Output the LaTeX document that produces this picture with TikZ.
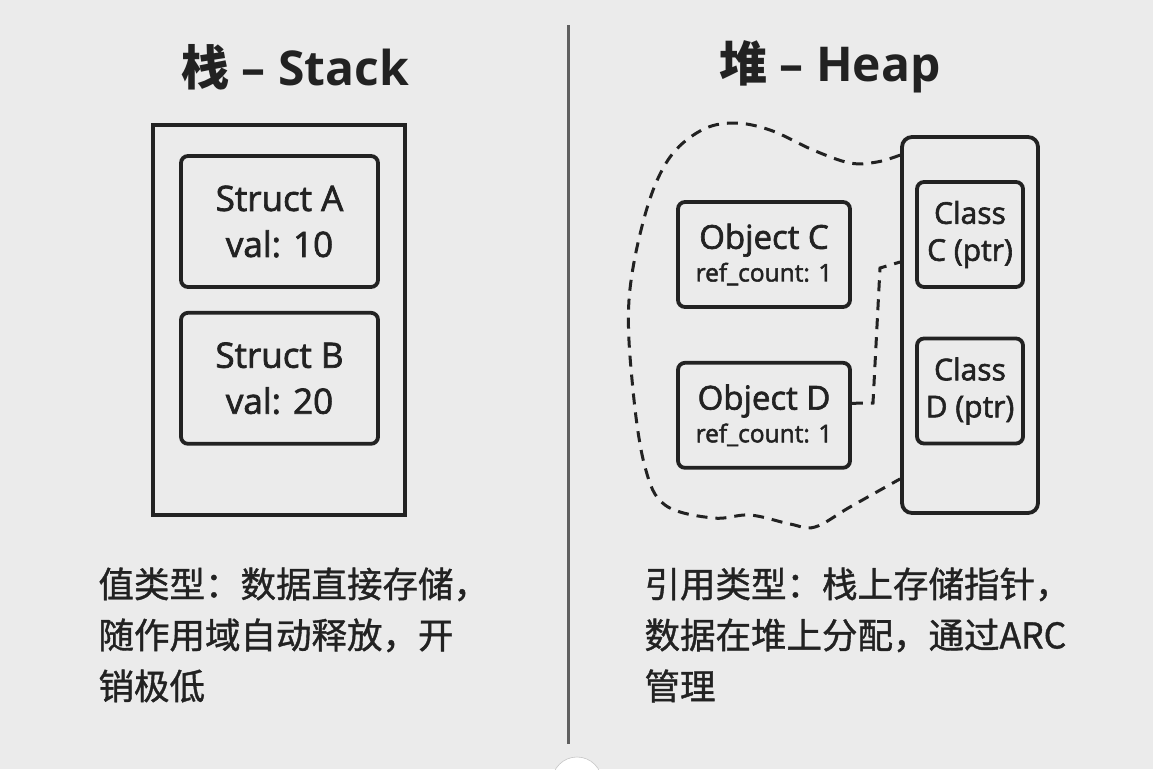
\documentclass[tikz,border=0pt]{standalone}
\usepackage{fontspec}
\setmainfont{Open Sans}
\newfontfamily\med[FakeBold=2]{Open Sans}
\newfontfamily\cjk{Noto Sans CJK SC}
\newfontfamily\cjkmed[FakeBold=1.1]{Noto Sans CJK SC}
\usetikzlibrary{positioning}

\definecolor{bg}{RGB}{235,235,235}
\definecolor{ink}{RGB}{34,34,34}
\definecolor{rulegray}{RGB}{95,95,95}

\begin{document}
\begin{tikzpicture}[
  x=1pt, y=-1pt,
  every node/.style={align=center, text=ink},
  title/.style={font=\fontsize{48}{52}\selectfont\bfseries},
  stackbox/.style={draw=ink, line width=3.5pt, minimum width=252pt, minimum height=390pt},
  valbox/.style={draw=ink, line width=3.8pt, rounded corners=7pt,
                 minimum width=197pt, minimum height=131pt,
                 font=\med\fontsize{35}{46}\selectfont},
  objbox/.style={draw=ink, line width=3.8pt, rounded corners=7pt,
                 minimum width=172pt, minimum height=105pt, font=\med},
  colbox/.style={draw=ink, line width=3.8pt, rounded corners=10pt,
                 minimum width=136pt, minimum height=376pt},
  ptrbox/.style={draw=ink, line width=3.8pt, rounded corners=7pt,
                 minimum width=106pt, minimum height=105pt,
                 font=\med\fontsize{30}{37}\selectfont},
  blob/.style={draw=ink, line width=3pt, dash pattern=on 11pt off 8pt},
  note/.style={anchor=north west, align=left, font=\cjkmed\fontsize{35.5}{51}\selectfont},
]

% --- background and page size ---
\fill[bg] (0,0) rectangle (1153,769);
\useasboundingbox (0,0) rectangle (1153,769);

% --- divider ---
\coordinate (divtop) at (568,25);
\coordinate (divbot) at (568,744);
\draw[rulegray, line width=3pt] (divtop) -- (divbot);

% --- Left half: stack ---
\node[title] (stacktitle) at (295,67) {{\cjk 栈} – Stack};

\node[stackbox] (stack) at (279,320) {};
\node[valbox] (sa) at (279.5,221.5) {Struct A\\val: 10};
\node[valbox, below=22pt of sa] (sb) {Struct B\\val: 20};

\node[note] (stacknote) at (95,564) {值类型：数据直接存储，\\随作用域自动释放，开\\销极低};

% --- Right half: heap ---
\node[title] (heaptitle) at (830,67) {{\cjk 堆} – Heap};

\node[objbox] (objc) at (764,254.5) {%
  {\fontsize{33}{35}\selectfont Object C}\\[5pt]
  {\fontsize{24.5}{30}\selectfont ref\_count: 1}};
\node[objbox, below=52pt of objc] (objd) {%
  {\fontsize{33}{35}\selectfont Object D}\\[5pt]
  {\fontsize{24.5}{30}\selectfont ref\_count: 1}};

\node[colbox] (ptrcol) at (970,325) {};
\node[ptrbox] (ptrc) at (970,234.5) {Class\\C (ptr)};
\node[ptrbox] (ptrd) at (970,391) {Class\\D (ptr)};

% heap region, dashed outline
\coordinate (blobtop) at ([yshift=-20pt]ptrcol.north west);
\coordinate (blobbot) at ([yshift=36pt]ptrcol.south west);
\draw[blob] plot[smooth, tension=0.6] coordinates {
  (blobtop) (877,162) (850,163) (813,150) (770,130) (733,123)
  (700,131) (668,160) (645,215) (629,300) (633,390) (645,467)
  (665,505) (713,518) (750,515) (790,524) (815,527) (850,507) (blobbot)};

% reference from object D to its pointer
\draw[blob] ([yshift=12pt]objd.east) -- (873,403) -- (880,268) -- (ptrcol.west |- 0,262);

\node[note] (heapnote) at (641,564) {引用类型：栈上存储指针，\\数据在堆上分配，通过ARC\\管理};

% --- partly visible white disc at the bottom edge ---
\fill[white] (577,782) circle (25);
\draw[gray!45, line width=0.6pt] (577,782) circle (25);

\end{tikzpicture}
\end{document}
